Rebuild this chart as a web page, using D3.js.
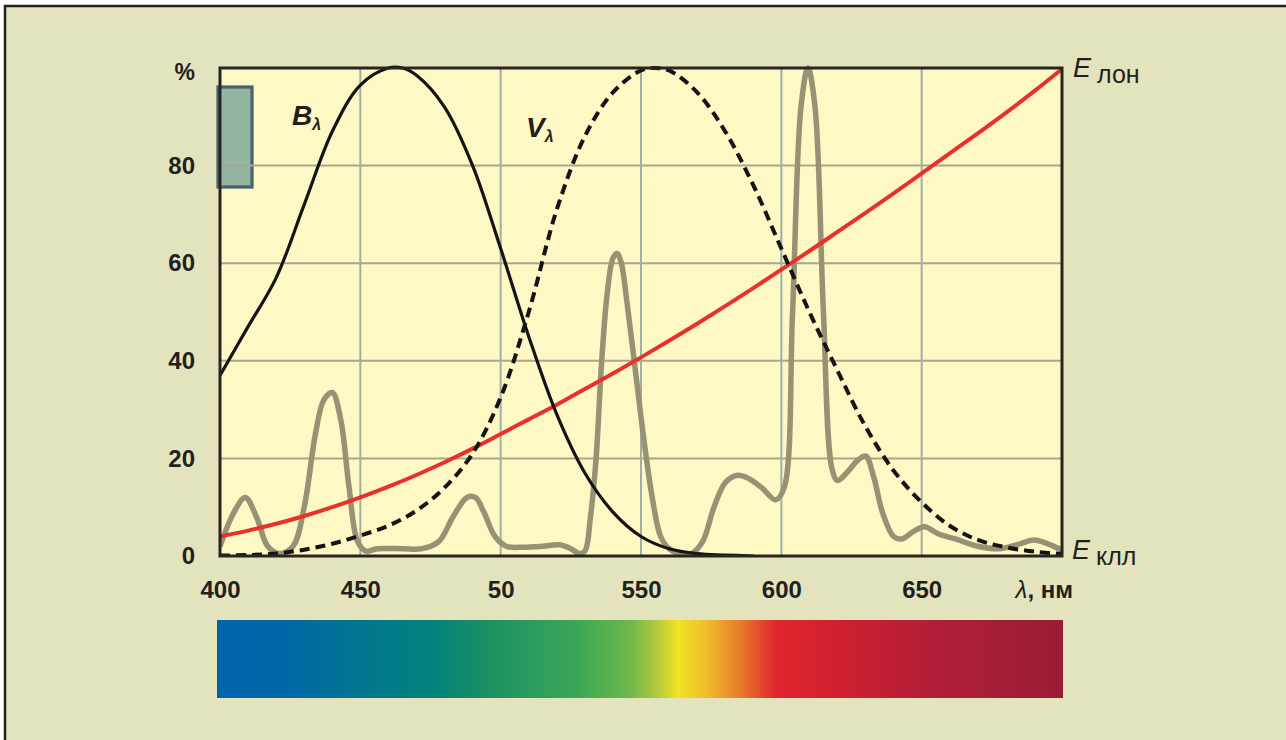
<!DOCTYPE html>
<html>
<head>
<meta charset="utf-8">
<script src="https://cdn.jsdelivr.net/npm/d3@7"></script>
<style>
  body { margin: 0; background: #ffffff; }
  svg { display: block; }
</style>
</head>
<body>
<svg width="1286" height="740"></svg>
<script>
var svg = d3.select('svg');

// axis ticks (the "50" under 500 is as printed in the original)
var xTicks = [400, 450, 500, 550, 600, 650];
var xTickLabels = ['400', '450', '50', '550', '600', '650'];
var yTicks = [0, 20, 40, 60, 80];
var yTickLabels = ['0', '20', '40', '60', '80'];

// B-lambda: blue light hazard curve
var bWave = [400, 410, 420, 430, 440, 450, 460, 465, 470, 480, 490, 500, 510, 520, 530, 540, 550, 560, 570, 580, 590];
var bValues = [37, 47, 57, 72, 87, 96.5, 100, 100, 98.5, 92, 80, 63, 45, 29, 17, 9, 4, 1.5, 0.5, 0.2, 0];

// V-lambda: eye sensitivity (dashed)
var vWave = [400, 410, 420, 430, 440, 450, 460, 470, 480, 490, 500, 510, 520, 530, 540, 550, 555, 560, 570, 580, 590, 600, 610, 620, 630, 640, 650, 660, 670, 680, 690, 700];
var vValues = [0.1, 0.2, 0.5, 1.3, 2.5, 4.2, 6.2, 9.3, 14, 21, 32.5, 50, 71, 86, 95, 99.5, 100, 99.5, 95, 87, 76, 63, 50, 38, 26.5, 17.5, 11, 6.2, 3.3, 1.8, 0.9, 0.4];

// E lon: incandescent lamp spectrum (red)
var eLonWave = [400, 410, 420, 430, 440, 450, 460, 470, 480, 490, 500, 510, 520, 530, 540, 550, 560, 570, 580, 590, 600, 610, 620, 630, 640, 650, 660, 670, 680, 690, 700];
var eLonValues = [4, 5.2, 6.6, 8.2, 10, 12, 14.2, 16.6, 19.2, 22, 25, 28, 31, 34.2, 37.4, 40.7, 44.1, 47.6, 51.2, 54.9, 58.7, 62.5, 66.4, 70.3, 74.3, 78.4, 82.5, 86.6, 90.8, 95.2, 99.8];

// E kll: compact fluorescent lamp spectrum (grey)
var eKllWave = [400, 405, 409, 413, 417, 421, 426, 430, 434, 437, 440, 443, 446, 449, 452, 456, 465, 472, 478, 483, 488, 491, 494, 498, 502, 508, 515, 521, 525, 528, 530, 532, 534, 536, 538, 540, 541.5, 543, 545, 548, 551, 554, 557, 560, 564, 568, 572, 576, 580, 584, 588, 593, 598, 601, 604, 607, 609.5, 612, 615, 618, 620, 624, 627, 630, 633, 636, 640, 643, 647, 651, 656, 662, 670, 678, 685, 690, 695, 700];
var eKllValues = [2, 9, 12, 8, 2, 0.5, 2, 10, 25, 32, 33.5, 28, 14, 3, 1, 1.5, 1.5, 1.5, 3, 8, 12, 12, 9, 4, 2, 1.8, 2, 2.3, 1.5, 0.5, 1, 8, 20, 40, 54, 61, 62, 60, 52, 38, 24, 12, 4, 1.5, 0.4, 0.5, 3, 10, 15, 16.5, 16, 14, 11.5, 14, 50, 92, 100, 92, 50, 18, 15.5, 17.5, 19.5, 20.5, 16, 9, 4, 3.5, 5, 6, 4.5, 3.5, 2, 1.5, 2.5, 3.3, 2.5, 1.2];

// visible spectrum strip
var spectrumStops = [
  [0.00, '#0064ac'], [0.08, '#0068a6'], [0.17, '#00768f'], [0.25, '#00817b'],
  [0.33, '#1f9262'], [0.43, '#3ca855'], [0.49, '#72b84a'], [0.52, '#b2c93c'],
  [0.545, '#f0e424'], [0.58, '#efbc2b'], [0.62, '#e6792b'], [0.66, '#e0262e'],
  [0.72, '#d3202f'], [0.85, '#b01e38'], [1.00, '#9b1c35']
];

var x = d3.scaleLinear().domain([400, 700]).range([220, 1062]);
var y = d3.scaleLinear().domain([0, 100]).range([556, 68]);

// outer frame
svg.append('rect')
  .attr('x', 5).attr('y', 6)
  .attr('width', 1320).attr('height', 800)
  .attr('fill', '#e3e3bd')
  .attr('stroke', '#231f1c')
  .attr('stroke-width', 2.5);

// plot background
svg.append('rect')
  .attr('x', x(400)).attr('y', y(100))
  .attr('width', x(700) - x(400)).attr('height', y(0) - y(100))
  .attr('fill', '#fdf8c4');

// small legend box top-left
svg.append('rect')
  .attr('x', 218).attr('y', 87)
  .attr('width', 34).attr('height', 100)
  .attr('fill', '#92b6a2')
  .attr('stroke', '#48606f')
  .attr('stroke-width', 3.2);

// grid
svg.append('g').selectAll('line.h')
  .data(yTicks.slice(1))
  .enter()
  .append('line')
  .attr('x1', x(400)).attr('x2', x(700))
  .attr('y1', function (d) { return y(d); })
  .attr('y2', function (d) { return y(d); })
  .attr('stroke', '#aba58c')
  .attr('stroke-width', 2);

svg.append('g').selectAll('line.v')
  .data(xTicks.slice(1))
  .enter()
  .append('line')
  .attr('x1', function (d) { return x(d); })
  .attr('x2', function (d) { return x(d); })
  .attr('y1', y(100)).attr('y2', y(0))
  .attr('stroke', '#a0aea6')
  .attr('stroke-width', 2);

// curves
svg.append('clipPath').attr('id', 'plotclip')
  .append('rect')
  .attr('x', x(400)).attr('y', y(100) - 3)
  .attr('width', x(700) - x(400)).attr('height', y(0) - y(100) + 3);

var plot = svg.append('g').attr('clip-path', 'url(#plotclip)');

function lineFor(wave) {
  return d3.line()
    .x(function (d, i) { return x(wave[i]); })
    .y(function (d) { return y(d); })
    .curve(d3.curveCatmullRom.alpha(0.5));
}

plot.append('path')
  .attr('d', lineFor(eKllWave)(eKllValues))
  .attr('fill', 'none')
  .attr('stroke', '#989275')
  .attr('stroke-width', 5.5)
  .attr('stroke-linejoin', 'round');

plot.append('path')
  .attr('d', lineFor(eLonWave)(eLonValues))
  .attr('fill', 'none')
  .attr('stroke', '#e8312c')
  .attr('stroke-width', 4);

plot.append('path')
  .attr('d', lineFor(bWave)(bValues))
  .attr('fill', 'none')
  .attr('stroke', '#141414')
  .attr('stroke-width', 3.2);

plot.append('path')
  .attr('d', lineFor(vWave)(vValues))
  .attr('fill', 'none')
  .attr('stroke', '#141414')
  .attr('stroke-width', 4)
  .attr('stroke-dasharray', '10,6');

// plot border
svg.append('rect')
  .attr('x', x(400)).attr('y', y(100))
  .attr('width', x(700) - x(400)).attr('height', y(0) - y(100))
  .attr('fill', 'none')
  .attr('stroke', '#2a2420')
  .attr('stroke-width', 3);

// axes
var font = "'Liberation Sans', Arial, sans-serif";

var xAxis = svg.append('g')
  .attr('transform', 'translate(0,' + y(0) + ')')
  .call(d3.axisBottom(x).tickValues(xTicks)
    .tickFormat(function (d, i) { return xTickLabels[i]; })
    .tickSize(0).tickPadding(25));
xAxis.select('.domain').remove();
xAxis.selectAll('text')
  .attr('font-family', font).attr('font-size', 24).attr('font-weight', 'bold')
  .attr('fill', '#231f1c');

var yAxis = svg.append('g')
  .attr('transform', 'translate(' + x(400) + ',0)')
  .call(d3.axisLeft(y).tickValues(yTicks)
    .tickFormat(function (d, i) { return yTickLabels[i]; })
    .tickSize(0).tickPadding(25));
yAxis.select('.domain').remove();
yAxis.selectAll('text')
  .attr('font-family', font).attr('font-size', 24).attr('font-weight', 'bold')
  .attr('fill', '#231f1c');

svg.append('text')
  .attr('x', 195).attr('y', 80)
  .attr('text-anchor', 'end')
  .attr('font-family', font).attr('font-size', 23).attr('font-weight', 'bold')
  .attr('fill', '#231f1c')
  .text('%');

var lam = svg.append('text')
  .attr('x', x(700) + 11).attr('y', 598)
  .attr('text-anchor', 'end')
  .attr('font-family', font).attr('font-size', 24).attr('font-weight', 'bold')
  .attr('fill', '#231f1c');
lam.append('tspan').attr('font-style', 'italic').attr('font-weight', 'normal').text('λ');
lam.append('tspan').text(', нм');

// curve labels
function curveLabel(px, py, main) {
  var t = svg.append('text')
    .attr('x', px).attr('y', py)
    .attr('font-family', font).attr('font-weight', 'bold').attr('font-style', 'italic')
    .attr('font-size', 28).attr('fill', '#231f1c');
  t.append('tspan').text(main);
  t.append('tspan').attr('font-size', 16).attr('dy', 5).text('λ');
}
curveLabel(292, 125, 'B');
curveLabel(526, 137, 'V');

function eLabel(px, py, sub) {
  var t = svg.append('text')
    .attr('x', px).attr('y', py)
    .attr('font-family', font).attr('font-size', 27).attr('fill', '#231f1c');
  t.append('tspan').attr('font-style', 'italic').text('E');
  t.append('tspan').attr('dx', 6).attr('dy', 6).attr('font-size', 25).text(sub);
}
eLabel(1073, 77, 'лон');
eLabel(1072, 559, 'клл');

// spectrum strip
var grad = svg.append('defs').append('linearGradient')
  .attr('id', 'spectrum')
  .attr('x1', '0%').attr('x2', '100%').attr('y1', '0%').attr('y2', '0%');
grad.selectAll('stop')
  .data(spectrumStops)
  .enter()
  .append('stop')
  .attr('offset', function (d) { return d[0]; })
  .attr('stop-color', function (d) { return d[1]; });

svg.append('rect')
  .attr('x', 217).attr('y', 620)
  .attr('width', 846).attr('height', 78)
  .attr('fill', 'url(#spectrum)');
</script>
</body>
</html>
